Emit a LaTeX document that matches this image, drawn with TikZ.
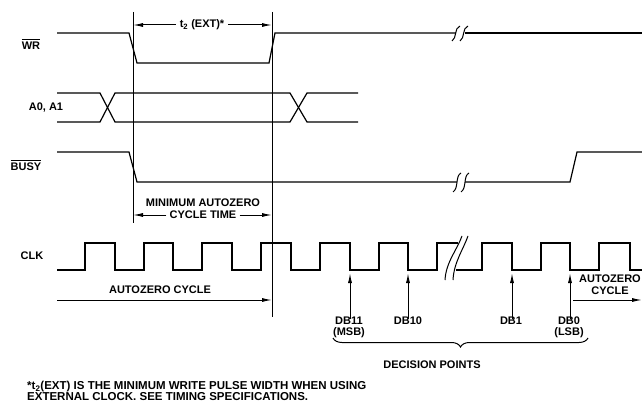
\documentclass[tikz,border=0pt]{standalone}
\usepackage{fontspec}
\setmainfont{Liberation Sans}
\usetikzlibrary{arrows.meta,decorations.pathreplacing}
\newcommand{\barlbl}[1]{$\overline{\hbox{\rule{0pt}{9.3pt}#1}}$}
\begin{document}
\begin{tikzpicture}[x=1pt,y=-1pt,
  sig/.style={line width=1.2pt},
  guide/.style={line width=0.8pt},
  lbl/.style={font=\fontsize{11}{12}\selectfont\bfseries, inner sep=0pt},
  tip/.style={-{Latex[length=10pt,width=4pt]}, line width=1pt},
  brk/.style={line width=1pt}]
\useasboundingbox (0,0) rectangle (642,404);
% signal labels
\node[lbl] (lwr) at (31,44) {\barlbl{WR}};
\node[lbl] (la) at (46,108) {A0, A1};
\node[lbl] (lbusy) at (26,165) {\barlbl{BUSY}};
\node[lbl] (lclk) at (32,256) {CLK};
% guide lines
\coordinate (g1t) at (133,12); \coordinate (g1b) at (133,223);
\coordinate (g2t) at (272,12); \coordinate (g2b) at (272,317);
\draw[guide] (g1t) -- (g1b);
\draw[guide] (g2t) -- (g2b);
% WR
\draw[sig] (57,33) -- (129,33) -- (137,63) -- (269,63) -- (275,33) -- (456,33);
\draw[sig] (465,33) -- (642,33);
\draw[brk] (452,41) .. controls (457,38) and (454,28) .. (460,26);
\draw[brk] (460,41) .. controls (465,38) and (462,28) .. (468,26);
% t2 arrow
\node[lbl] (t2) at (202,25) {t\textsubscript{2} (EXT)*};
\draw[tip] ([xshift=-4pt]t2.west) -- (g1t |- t2);
\draw[tip] ([xshift=4pt]t2.east) -- (g2t |- t2);
% A0 A1
\draw[sig] (57,93) -- (100,93) -- (115,122) -- (290,122) -- (307,93) -- (358,93);
\draw[sig] (57,122) -- (100,122) -- (115,93) -- (290,93) -- (307,122) -- (358,122);
% BUSY
\draw[sig] (57,152) -- (129,152) -- (137,182) -- (457,182);
\draw[sig] (465,182) -- (570,182) -- (577,152) -- (642,152);
\draw[brk] (453,192) .. controls (459,188) and (455,176) .. (461,173);
\draw[brk] (461,192) .. controls (467,188) and (463,176) .. (469,173);
% minimum autozero cycle time
\node[lbl] (maz) at (203,203) {MINIMUM AUTOZERO};
\node[lbl] (ct) at (203,215) {CYCLE TIME};
\draw[tip] ([xshift=-3pt]ct.west) -- (g1t |- ct);
\draw[tip] ([xshift=3pt]ct.east) -- (g2t |- ct);
% CLK
\draw[sig] (57,270) -- (85,270) -- (85,243) -- (115,243) -- (115,270)
  -- (144,270) -- (144,243) -- (173,243) -- (173,270)
  -- (202,270) -- (202,243) -- (232,243) -- (232,270)
  -- (261,270) -- (261,243) -- (291,243) -- (291,270)
  -- (320,270) -- (320,243) -- (350,243) -- (350,270)
  -- (379,270) -- (379,243) -- (408,243) -- (408,270)
  -- (437,270) -- (437,243) -- (458,243);
\draw[sig] (456,270) -- (482,270) -- (482,243) -- (512,243) -- (512,270)
  -- (541,270) -- (541,243) -- (570,243) -- (570,270)
  -- (599,270) -- (599,243) -- (630,243) -- (630,270) -- (642,270);
\draw[brk] (445,280) .. controls (446,262) and (457,250) .. (462,236);
\draw[brk] (453,280) .. controls (454,262) and (463,250) .. (468,236);
% autozero cycle (left)
\node[lbl] (azc) at (160,290) {AUTOZERO CYCLE};
\coordinate (azs) at (57,300);
\draw[tip] (azs) -- (g2t |- azs);
% decision points
\node[lbl] (db11) at (349,321) {DB11};
\node[lbl] (msb) at (349,333) {(MSB)};
\node[lbl] (db10) at (408,321) {DB10};
\node[lbl] (db1) at (511,321) {DB1};
\node[lbl] (db0) at (569,321) {DB0};
\node[lbl] (lsb) at (569,333) {(LSB)};
\coordinate (a11) at (350,273);
\coordinate (a10) at (408,273);
\coordinate (a1) at (512,273);
\coordinate (a0) at (570,273);
\draw[tip] ([yshift=-2pt]db11.north -| a11) -- (a11);
\draw[tip] ([yshift=-2pt]db10.north -| a10) -- (a10);
\draw[tip] ([yshift=-2pt]db1.north -| a1) -- (a1);
\draw[tip] ([yshift=-2pt]db0.north -| a0) -- (a0);
\coordinate (bl) at (333,338);
\coordinate (br) at (588,338);
\draw[line width=1pt, decorate, decoration={brace, amplitude=9pt, mirror}] (bl) -- (br);
\node[lbl] (dp) at (432,365) {DECISION POINTS};
% autozero cycle (right)
\node[lbl] (az2) at (610,279) {AUTOZERO};
\node[lbl] (cy2) at (610,291) {CYCLE};
\coordinate (azr) at (573,300);
\coordinate (aze) at (642,300);
\draw[tip] (azr) -- (aze);
% footnote
\node[lbl, font=\fontsize{11.5}{11}\selectfont\bfseries, anchor=west, align=left] (fn) at (27,391) {*t\textsubscript{2}(EXT) IS THE MINIMUM WRITE PULSE WIDTH WHEN USING\\EXTERNAL CLOCK. SEE TIMING SPECIFICATIONS.};
\end{tikzpicture}
\end{document}
